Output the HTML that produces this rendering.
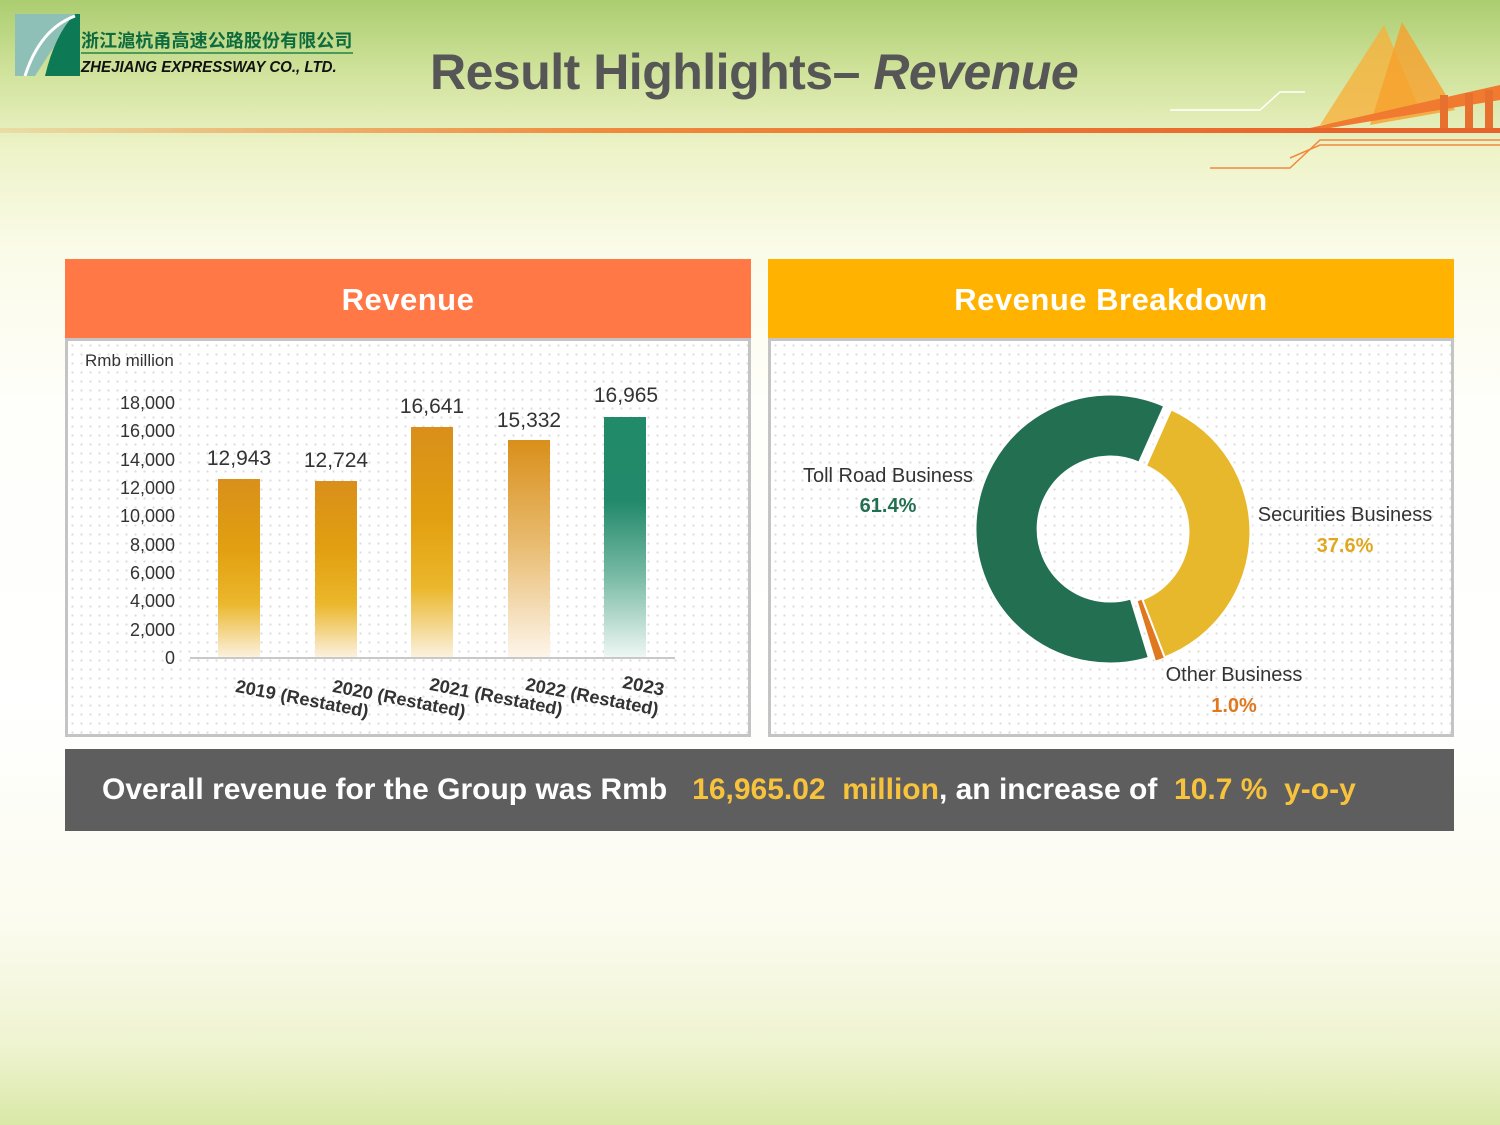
<!DOCTYPE html>
<html><head><meta charset="utf-8">
<style>
*{margin:0;padding:0;box-sizing:border-box}
body{width:1500px;height:1125px;overflow:hidden;position:relative;font-family:"Liberation Sans","Noto Sans CJK SC",sans-serif;
background:linear-gradient(180deg,#abcd70 0px,#cfe29a 70px,#eef3c8 150px,#fbfbe9 250px,#fefefa 400px,#ffffff 700px,#fbfbee 930px,#eef3cf 1050px,#d9e8a6 1125px);}
.abs{position:absolute}
.hdr{position:absolute;top:259px;height:79px;color:#fff;font-weight:bold;font-size:31px;text-align:center;line-height:82px;letter-spacing:0.5px}
.box{position:absolute;top:338px;height:399px;border:3px solid #c4c4c4;
background-color:#fff;background-image:radial-gradient(circle,#dcdcdc 1px,transparent 1.3px);background-size:9px 9px}
</style></head><body>
<div class="abs" style="left:0;top:128px;width:1500px;height:5px;background:linear-gradient(90deg,rgba(240,150,70,0.2),#f08a3c 40%,#e8642a 90%,#e8642a)"></div>
<svg class="abs" style="left:0;top:0" width="1500" height="200">
 <polygon points="1320,125 1384,25 1420,110" fill="#f6b13c" opacity="0.8"/>
 <polygon points="1370,125 1402,22 1455,110" fill="#f6a02c" opacity="0.8"/>
 <polygon points="1310,128 1500,85 1500,100 1330,128" fill="#f07a30"/>
 <rect x="1440" y="95" width="8" height="33" fill="#e8702e"/><rect x="1465" y="93" width="8" height="35" fill="#e8702e"/><rect x="1485" y="90" width="8" height="38" fill="#e8702e"/>
 <polyline points="1210,168 1290,168 1320,140 1500,140" fill="none" stroke="#f08a3c" stroke-width="1.5"/>
 <polyline points="1290,158 1320,145 1500,145" fill="none" stroke="#f08a3c" stroke-width="1.5"/>
 <polyline points="1170,110 1260,110 1280,92 1305,92" fill="none" stroke="#fff" stroke-width="1.5"/>
</svg>
<svg class="abs" style="left:15px;top:14px" width="65" height="64">
 <polygon points="0,0 60,0 20,62 0,62" fill="#8fc0b8"/>
 <path d="M60,0 L65,0 65,62 30,62 Q40,20 60,0Z" fill="#0e7a55"/>
 <path d="M10,62 Q25,15 60,2" stroke="#fff" stroke-width="3" fill="none"/>
</svg>
<div class="abs" style="left:81px;top:28px;font-size:18px;font-weight:bold;color:#0d6b3e;letter-spacing:0.1px;font-family:'Noto Sans CJK SC',sans-serif;line-height:24px">浙江滬杭甬高速公路股份有限公司</div>
<div class="abs" style="left:81px;top:52px;width:272px;height:2px;background:#4a9a5a"></div>
<div class="abs" style="left:81px;top:58px;font-size:16px;font-weight:bold;font-style:italic;color:#111;line-height:20px;transform:scaleX(0.94);transform-origin:left">ZHEJIANG EXPRESSWAY CO., LTD.</div>
<div class="abs" style="left:430px;top:41px;font-size:50px;font-weight:bold;color:#565656;line-height:62px;letter-spacing:-0.5px">Result Highlights– <i>Revenue</i></div>

<div class="hdr" style="left:65px;width:686px;background:#ff7845">Revenue</div>
<div class="hdr" style="left:768px;width:686px;background:#ffb300">Revenue Breakdown</div>
<div class="box" style="left:65px;width:686px"></div>
<div class="box" style="left:768px;width:686px"></div>

<svg class="abs" style="left:0;top:0" width="1500" height="1125" font-family="Liberation Sans, sans-serif">
<defs>
 <linearGradient id="go" x1="0" y1="0" x2="0" y2="1"><stop offset="0" stop-color="#d98f1a"/><stop offset="0.4" stop-color="#e2a010"/><stop offset="0.7" stop-color="#ebb72c"/><stop offset="1" stop-color="#fbf1de"/></linearGradient>
 <linearGradient id="go2" x1="0" y1="0" x2="0" y2="1"><stop offset="0" stop-color="#d98f1a"/><stop offset="0.5" stop-color="#e9bd74"/><stop offset="1" stop-color="#fdf5ea"/></linearGradient>
 <linearGradient id="gg" x1="0" y1="0" x2="0" y2="1"><stop offset="0" stop-color="#218a68"/><stop offset="0.35" stop-color="#22896a"/><stop offset="0.65" stop-color="#74b8a2"/><stop offset="1" stop-color="#eef7f3"/></linearGradient>
</defs>
<text x="85" y="366" font-size="17" fill="#333">Rmb million</text>
<g font-size="18" fill="#333" text-anchor="end">
 <text x="175" y="409">18,000</text><text x="175" y="437">16,000</text><text x="175" y="466">14,000</text>
 <text x="175" y="494">12,000</text><text x="175" y="522">10,000</text><text x="175" y="551">8,000</text>
 <text x="175" y="579">6,000</text><text x="175" y="607">4,000</text><text x="175" y="636">2,000</text><text x="175" y="664">0</text>
</g>
<line x1="190" y1="658" x2="675" y2="658" stroke="#c8c8c8" stroke-width="2"/>
<rect x="218" y="479" width="42" height="178" fill="url(#go)"/>
<rect x="315" y="481" width="42" height="176" fill="url(#go)"/>
<rect x="411" y="427" width="42" height="230" fill="url(#go)"/>
<rect x="508" y="440" width="42" height="217" fill="url(#go2)"/>
<rect x="604" y="417" width="42" height="240" fill="url(#gg)"/>
<g font-size="21" fill="#333" text-anchor="middle">
 <text x="239" y="465">12,943</text><text x="336" y="467">12,724</text><text x="432" y="413">16,641</text>
 <text x="529" y="427">15,332</text><text x="626" y="402">16,965</text>
</g>
<g font-size="18" font-weight="bold" fill="#333">
 <g transform="translate(237,680) rotate(11)"><text x="0" y="12" textLength="135" lengthAdjust="spacingAndGlyphs">2019 (Restated)</text></g>
 <g transform="translate(334,680) rotate(11)"><text x="0" y="12" textLength="135" lengthAdjust="spacingAndGlyphs">2020 (Restated)</text></g>
 <g transform="translate(431,678) rotate(11)"><text x="0" y="12" textLength="135" lengthAdjust="spacingAndGlyphs">2021 (Restated)</text></g>
 <g transform="translate(527,678) rotate(11)"><text x="0" y="12" textLength="135" lengthAdjust="spacingAndGlyphs">2022 (Restated)</text></g>
 <g transform="translate(624,676) rotate(11)"><text x="0" y="12" textLength="42" lengthAdjust="spacingAndGlyphs">2023</text></g>
</g>
<path d="M1149.5,658.1 A135,135 0 1,1 1164.9,405.7 L1139.3,463.2 A72,72 0 1,0 1131.1,597.9 Z" fill="#236f51" stroke="#fff" stroke-width="3"/>
<g transform="translate(6,3)">
<path d="M1164.9,405.7 A135,135 0 0,1 1158.4,655.0 L1135.8,596.2 A72,72 0 0,0 1139.3,463.2 Z" fill="#e8b82c" stroke="#fff" stroke-width="3"/>
<path d="M1158.4,655.0 A135,135 0 0,1 1149.5,658.1 L1131.1,597.9 A72,72 0 0,0 1135.8,596.2 Z" fill="#e07820" stroke="#fff" stroke-width="1"/>
</g>
<text x="888" y="482" font-size="20" fill="#333" text-anchor="middle">Toll Road Business</text>
<text x="888" y="512" font-size="20" font-weight="bold" fill="#236f51" text-anchor="middle">61.4%</text>
<text x="1345" y="521" font-size="20" fill="#333" text-anchor="middle">Securities Business</text>
<text x="1345" y="552" font-size="20" font-weight="bold" fill="#e0a820" text-anchor="middle">37.6%</text>
<text x="1234" y="681" font-size="20" fill="#333" text-anchor="middle">Other Business</text>
<text x="1234" y="712" font-size="20" font-weight="bold" fill="#e07820" text-anchor="middle">1.0%</text>
</svg>

<div class="abs" style="left:65px;top:749px;width:1389px;height:82px;background:#5e5e5e;color:#fff;font-size:30px;font-weight:bold;line-height:82px;padding-left:37px;white-space:pre;letter-spacing:0px">Overall revenue for the Group was Rmb   <span style="color:#f7c23c">16,965.02  million</span>, an increase of  <span style="color:#f7c23c">10.7 %  y-o-y</span></div>
</body></html>
